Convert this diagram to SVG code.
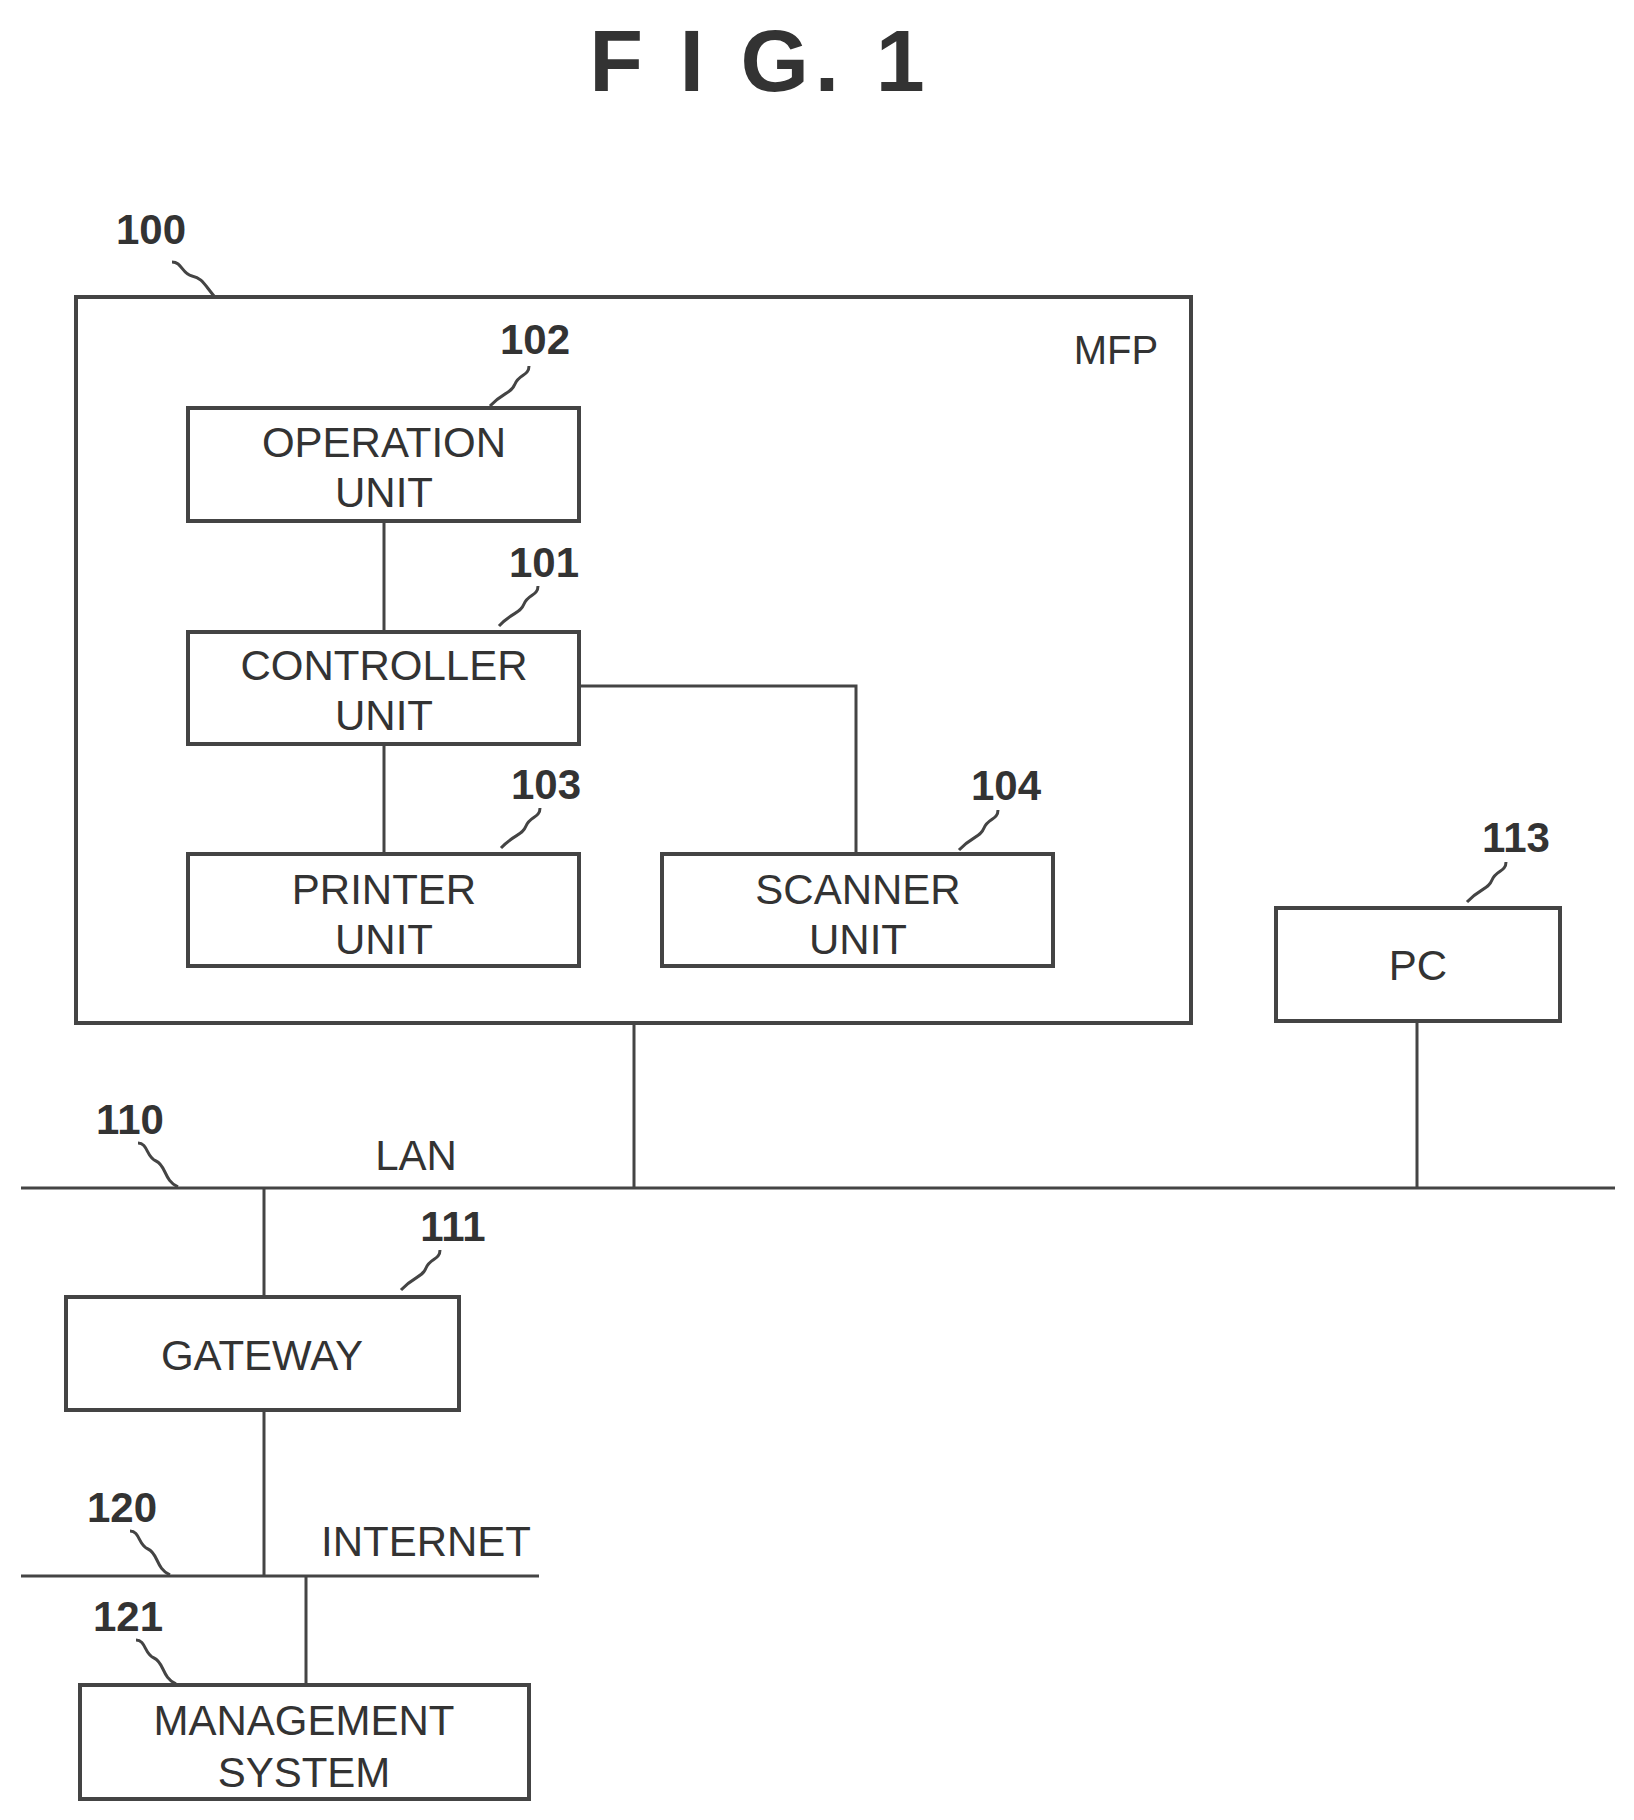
<svg xmlns="http://www.w3.org/2000/svg" width="1634" height="1820" viewBox="0 0 1634 1820">
<style>
.b{fill:none;stroke:#444;stroke-width:4}
.l{fill:none;stroke:#444;stroke-width:3}
.t{font-family:"Liberation Sans",Arial,sans-serif;font-size:42px;fill:#333;text-anchor:middle}
.n{font-family:"Liberation Sans",Arial,sans-serif;font-size:42px;font-weight:bold;fill:#333;text-anchor:middle}
</style>
<rect width="1634" height="1820" fill="#fff"/>
<text x="760" y="91" font-family="Liberation Sans,Arial,sans-serif" font-size="88" font-weight="bold" fill="#333" text-anchor="middle" letter-spacing="6">F I G.  1</text>
<g id="connectors">
<path class="l" d="M384 521V632M384 744V854M579 686H856V854M634 1023V1188M1417 1021V1188M264 1188V1297M264 1410V1576M306 1576V1685"/>
<path class="l" d="M21 1188H1615M21 1576H539"/>
<path class="l" d="M172 262c10 0 10 12 20 14s12 8 22 20"/>
<path class="l" d="M529 366c0 10-10 8-14 18s-12 8-25 22"/>
<path class="l" d="M538 586c0 10-10 8-14 18s-12 8-25 22"/>
<path class="l" d="M540 808c0 10-10 8-14 18s-12 8-25 22"/>
<path class="l" d="M998 810c0 10-10 8-14 18s-12 8-25 22"/>
<path class="l" d="M1506 862c0 10-10 8-14 18s-12 8-25 22"/>
<path class="l" d="M440 1250c0 10-10 8-14 18s-12 8-25 22"/>
<path class="l" d="M138 1143c10 0 8 14 18 18s8 20 22 26"/>
<path class="l" d="M130 1531c10 0 8 14 18 18s8 20 22 26"/>
<path class="l" d="M136 1640c10 0 8 14 18 18s8 20 22 26"/>
<text class="t" x="416" y="1170">LAN</text>
<text class="t" x="426" y="1556">INTERNET</text>
<text class="n" x="130" y="1134">110</text>
<text class="n" x="122" y="1522">120</text>
</g>
<g id="mfp"><rect class="b" x="76" y="297" width="1115" height="726"/><text class="t" x="1116" y="364" style="font-size:40px">MFP</text><text class="n" x="151" y="244">100</text></g>
<g id="op"><rect class="b" x="188" y="408" width="391" height="113"/><text class="t" x="384" y="457">OPERATION</text><text class="t" x="384" y="507">UNIT</text><text class="n" x="535" y="354">102</text></g>
<g id="ctrl"><rect class="b" x="188" y="632" width="391" height="112"/><text class="t" x="384" y="680">CONTROLLER</text><text class="t" x="384" y="730">UNIT</text><text class="n" x="544" y="577">101</text></g>
<g id="printer"><rect class="b" x="188" y="854" width="391" height="112"/><text class="t" x="384" y="904">PRINTER</text><text class="t" x="384" y="954">UNIT</text><text class="n" x="546" y="799">103</text></g>
<g id="scanner"><rect class="b" x="662" y="854" width="391" height="112"/><text class="t" x="858" y="904">SCANNER</text><text class="t" x="858" y="954">UNIT</text><text class="n" x="1006" y="800">104</text></g>
<g id="pc"><rect class="b" x="1276" y="908" width="284" height="113"/><text class="t" x="1418" y="980">PC</text><text class="n" x="1516" y="852">113</text></g>
<g id="gateway"><rect class="b" x="66" y="1297" width="393" height="113"/><text class="t" x="262" y="1370">GATEWAY</text><text class="n" x="453" y="1241">111</text></g>
<g id="mgmt"><rect class="b" x="80" y="1685" width="449" height="114"/><text class="t" x="304" y="1735">MANAGEMENT</text><text class="t" x="304" y="1787">SYSTEM</text><text class="n" x="128" y="1631">121</text></g>
</svg>
